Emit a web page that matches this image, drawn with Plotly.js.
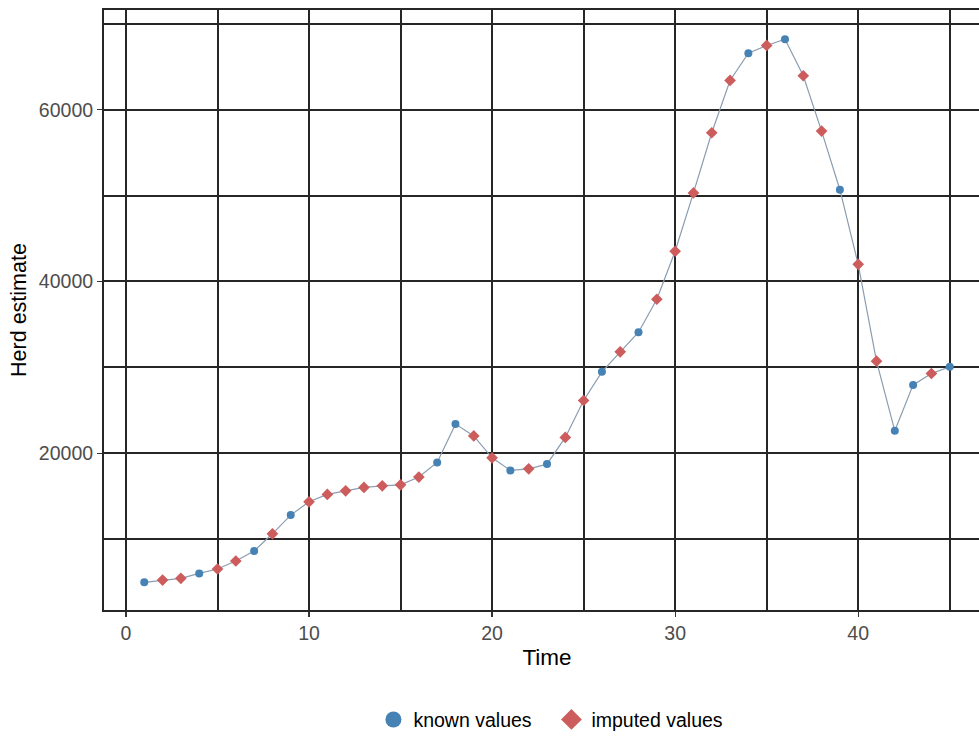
<!DOCTYPE html>
<html>
<head>
<meta charset="utf-8">
<script src="https://cdn.plot.ly/plotly-3.0.1.min.js"></script>
<style>
html,body{margin:0;padding:0;overflow:hidden;background:#fff;}
#chart{width:990px;height:751px;}
</style>
</head>
<body>
<div id="chart"></div>
<script>
// Data
const time = [1,2,3,4,5,6,7,8,9,10,11,12,13,14,15,16,17,18,19,20,21,22,23,24,25,26,27,28,29,30,31,32,33,34,35,36,37,38,39,40,41,42,43,44,45];
const herd = [4950,5215,5410,5990,6500,7430,8590,10600,12780,14330,15190,15610,16000,16190,16310,17210,18920,23380,22010,19450,17990,18170,18720,21830,26130,29470,31800,34090,37930,43520,50320,57330,63420,66600,67500,68230,63970,57520,50690,42000,30710,22600,27950,29280,30050];
const status = ['k','i','i','k','i','i','k','i','k','i','i','i','i','i','i','i','k','k','i','i','k','i','k','i','i','k','i','k','i','i','i','i','i','k','i','k','i','i','k','i','i','k','k','i','k'];
const seriesNames = {k: 'known values', i: 'imputed values'};
const yTicks = [20000, 40000, 60000];
const yMinor = [10000, 30000, 50000, 70000];
const xTicks = [0, 10, 20, 30, 40];

const knownColor = '#4682B4';
const imputedColor = '#CD5C5C';

function pick(code){
  const xs = [], ys = [];
  time.forEach((t, i) => { if (status[i] === code) { xs.push(t); ys.push(herd[i]); } });
  return {xs, ys};
}
const kn = pick('k'), im = pick('i');

const traces = [
  {x: time, y: herd, mode: 'lines', line: {color: '#8a9db0', width: 1.2}, showlegend: false, hoverinfo: 'skip'},
  {x: kn.xs, y: kn.ys, mode: 'markers', marker: {symbol: 'circle', size: 8, color: knownColor}, showlegend: false},
  {x: im.xs, y: im.ys, mode: 'markers', marker: {symbol: 'diamond', size: 9, color: imputedColor}, showlegend: false},
  // legend entries
  {x: [null], y: [null], mode: 'markers', name: seriesNames.k, marker: {symbol: 'circle', size: 22, color: knownColor}},
  {x: [null], y: [null], mode: 'markers', name: seriesNames.i, marker: {symbol: 'diamond', size: 18, color: imputedColor}}
];

const gridCol = '#262626';
const gw = 2;
const layout = {
  width: 990, height: 751,
  margin: {l: 104, r: 0, t: 10, b: 141},
  paper_bgcolor: '#fff', plot_bgcolor: '#fff',
  font: {family: 'Liberation Sans, Arial, sans-serif', color: '#000'},
  xaxis: {
    range: [-1.2, 47.2],
    tickvals: xTicks, ticktext: xTicks.map(String),
    ticks: 'outside', ticklen: 5, tickwidth: 1.2, tickcolor: '#333',
    tickfont: {size: 19.5, color: '#4d4d4d'},
    showgrid: true, gridcolor: gridCol, gridwidth: gw,
    minor: {dtick: 5, tick0: 0, showgrid: true, gridcolor: gridCol, gridwidth: gw},
    showline: true, linecolor: gridCol, linewidth: gw, mirror: true,
    zeroline: false,
    title: {text: 'Time', font: {size: 22.5, color: '#000'}, standoff: 6}
  },
  yaxis: {
    range: [1723, 71630],
    tickvals: yTicks, ticktext: yTicks.map(String),
    ticks: 'outside', ticklen: 5, tickwidth: 1.2, tickcolor: '#333',
    tickfont: {size: 19.5, color: '#4d4d4d'},
    showgrid: true, gridcolor: gridCol, gridwidth: gw,
    minor: {tickvals: yMinor, showgrid: true, gridcolor: gridCol, gridwidth: gw},
    showline: true, linecolor: gridCol, linewidth: gw, mirror: true,
    zeroline: false,
    title: {text: 'Herd estimate', font: {size: 21.5, color: '#000'}, standoff: 6}
  },
  showlegend: true,
  legend: {
    orientation: 'h', x: 0.505, xanchor: 'center', y: -0.183, yanchor: 'middle',
    font: {size: 19.5, color: '#000'}, itemwidth: 30, traceorder: 'normal',
    entrywidth: 133, entrywidthmode: 'pixels'
  }
};

Plotly.newPlot('chart', traces, layout, {displayModeBar: false, staticPlot: true});
</script>
</body>
</html>
